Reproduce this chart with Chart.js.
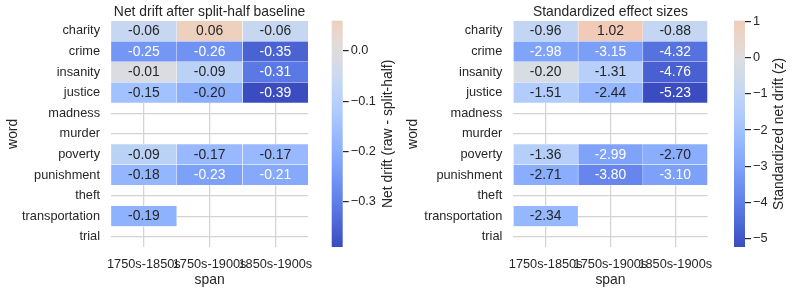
<!DOCTYPE html>
<html>
<head>
<meta charset="utf-8">
<script src="https://cdn.jsdelivr.net/npm/chart.js@4"></script>
<style>
  body { margin: 0; background: #fff; }
  #wrap { position: relative; width: 793px; height: 293px; overflow: hidden; }
  .box { position: absolute; top: 0; height: 293px; }
</style>
</head>
<body>
<div id="wrap">
  <div class="box" style="left:0;width:325px"><canvas id="hmDrift"></canvas></div>
  <div class="box" style="left:325px;width:75px"><canvas id="cbDrift"></canvas></div>
  <div class="box" style="left:400px;width:325px"><canvas id="hmEffect"></canvas></div>
  <div class="box" style="left:725px;width:68px"><canvas id="cbEffect"></canvas></div>
</div>
<script>
// rows and columns
const words = ['charity', 'crime', 'insanity', 'justice', 'madness', 'murder', 'poverty', 'punishment', 'theft', 'transportation', 'trial'];
const spans = ['1750s-1850s', '1750s-1900s', '1850s-1900s'];

// net drift (raw - split-half), one array per span
const drift1750to1850 = [-0.06, -0.25, -0.01, -0.15, null, null, -0.09, -0.18, null, -0.19, null];
const drift1750to1900 = [0.06, -0.26, -0.09, -0.20, null, null, -0.17, -0.23, null, null, null];
const drift1850to1900 = [-0.06, -0.35, -0.31, -0.39, null, null, -0.17, -0.21, null, null, null];

// standardized effect sizes (z), one array per span
const effect1750to1850 = [-0.96, -2.98, -0.20, -1.51, null, null, -1.36, -2.71, null, -2.34, null];
const effect1750to1900 = [1.02, -3.15, -1.31, -2.44, null, null, -2.99, -3.80, null, null, null];
const effect1850to1900 = [-0.88, -4.32, -4.76, -5.23, null, null, -2.70, -3.10, null, null, null];

// colorbar ticks
const driftTicks = [0.0, -0.1, -0.2, -0.3];
const effectTicks = [1, 0, -1, -2, -3, -4, -5];

const FONT = "'Liberation Sans', Arial, sans-serif";
const INK = '#262626';
const GRID = '#d4d4d4';
Chart.defaults.font.family = FONT;
Chart.defaults.color = INK;

// coolwarm colormap table (33 stops)
const coolwarm = [
  [59,76,192],[68,90,204],[77,104,215],[87,117,225],[98,130,234],[108,142,241],[119,154,247],[130,165,251],
  [141,176,254],[152,185,255],[163,194,255],[174,201,253],[184,208,249],[194,213,244],[204,217,238],[213,219,230],
  [221,221,221],[229,216,209],[236,211,197],[241,204,185],[245,196,173],[247,187,160],[247,177,148],[247,166,135],
  [244,154,123],[241,141,111],[236,127,99],[229,112,88],[222,96,77],[213,80,66],[203,62,56],[192,40,47],[180,4,38]
];

function cmapRgb(t) {
  t = Math.max(0, Math.min(1, t));
  const p = t * (coolwarm.length - 1);
  const i = Math.min(Math.floor(p), coolwarm.length - 2);
  const f = p - i;
  return coolwarm[i].map((c, k) => Math.round(c + (coolwarm[i + 1][k] - c) * f));
}

// centered at 0 like seaborn's center=0
function colorFor(v, vr) {
  const [r, g, b] = cmapRgb((v + vr) / (2 * vr));
  return `rgb(${r},${g},${b})`;
}

function textColorFor(v, vr) {
  const lin = cmapRgb((v + vr) / (2 * vr)).map(c => {
    c = c / 255;
    return c <= 0.03928 ? c / 12.92 : Math.pow((c + 0.055) / 1.055, 2.4);
  });
  const lum = 0.2126 * lin[0] + 0.7152 * lin[1] + 0.0722 * lin[2];
  return lum > 0.408 ? INK : '#ffffff';
}

function dataRange(columns) {
  const all = columns.flat().filter(v => v !== null);
  return [Math.min(...all), Math.max(...all)];
}

const cellLabels = {
  id: 'cellLabels',
  afterDatasetsDraw(chart) {
    const ctx = chart.ctx;
    const vr = chart.options.plugins.cellLabels.vr;
    ctx.save();
    ctx.font = `13.9px ${FONT}`;
    ctx.textAlign = 'center';
    ctx.textBaseline = 'middle';
    chart.data.datasets.forEach((ds, i) => {
      chart.getDatasetMeta(i).data.forEach((bar, j) => {
        const v = ds.values[j];
        if (v === null) return;
        const { x, y, base } = bar.getProps(['x', 'y', 'base'], true);
        ctx.fillStyle = textColorFor(v, vr);
        ctx.fillText(v.toFixed(2), (x + base) / 2, y + 0.5);
      });
    });
    ctx.restore();
  }
};

function makeHeatmap(id, columns, title, yWidth, padRight) {
  const [vmin, vmax] = dataRange(columns);
  const vr = Math.max(vmax, -vmin);
  return new Chart(document.getElementById(id), {
    type: 'bar',
    data: {
      labels: words,
      datasets: columns.map((vals, c) => ({
        label: spans[c],
        values: vals,
        data: vals.map(v => v === null ? null : [c, c + 1]),
        backgroundColor: vals.map(v => v === null ? 'rgba(0,0,0,0)' : colorFor(v, vr)),
        borderColor: '#ffffff',
        borderWidth: 0.5,
        borderSkipped: false,
        barPercentage: 1,
        categoryPercentage: 1,
        grouped: false
      }))
    },
    options: {
      indexAxis: 'y',
      animation: false,
      responsive: true,
      maintainAspectRatio: false,
      layout: { padding: { left: 0, right: padRight, top: 0, bottom: 0 } },
      plugins: {
        legend: { display: false },
        tooltip: { enabled: false },
        title: {
          display: true, text: title, fullSize: false, color: INK,
          font: { size: 13.9, weight: 'normal' },
          padding: { top: 4, bottom: 0 }
        },
        cellLabels: { vr }
      },
      scales: {
        x: {
          type: 'linear', min: 0, max: 3,
          afterBuildTicks: s => { s.ticks = [0.5, 1.5, 2.5].map(v => ({ value: v })); },
          afterFit: s => { s.height = 46; },
          ticks: {
            autoSkip: false, maxRotation: 0, minRotation: 0, padding: 10,
            font: { size: 12.75 }, color: INK,
            callback: v => spans[Math.floor(v)]
          },
          grid: { color: GRID, lineWidth: 1.25, drawTicks: false },
          border: { display: false },
          title: { display: true, text: 'span', color: INK, font: { size: 13.9 }, padding: { top: 0, bottom: 4.8 } }
        },
        y: {
          afterFit: s => { s.width = yWidth; },
          ticks: { padding: 11, font: { size: 12.75 }, color: INK },
          grid: { offset: false, color: GRID, lineWidth: 1.25, drawTicks: false },
          border: { display: false },
          title: { display: true, text: 'word', color: INK, font: { size: 13.9 }, padding: { top: 4.8, bottom: 0 } }
        }
      }
    },
    plugins: [cellLabels]
  });
}

const gradientFill = {
  id: 'gradientFill',
  beforeDatasetsDraw(chart) {
    const o = chart.options.plugins.gradientFill;
    const { ctx, chartArea } = chart;
    const ys = chart.scales.y;
    const g = ctx.createLinearGradient(0, ys.getPixelForValue(o.vmin), 0, ys.getPixelForValue(o.vmax));
    const n = 40;
    for (let k = 0; k <= n; k++) {
      const v = o.vmin + (o.vmax - o.vmin) * k / n;
      g.addColorStop(k / n, colorFor(v, o.vr));
    }
    ctx.save();
    ctx.fillStyle = g;
    ctx.fillRect(chartArea.left, chartArea.top, chartArea.right - chartArea.left, chartArea.bottom - chartArea.top);
    ctx.restore();
  },
  afterDraw(chart) {
    const o = chart.options.plugins.gradientFill;
    const { ctx, chartArea } = chart;
    ctx.save();
    ctx.font = `13.9px ${FONT}`;
    ctx.fillStyle = INK;
    ctx.textAlign = 'center';
    ctx.textBaseline = 'middle';
    ctx.translate(o.labelX, (chartArea.top + chartArea.bottom) / 2);
    ctx.rotate(-Math.PI / 2);
    ctx.fillText(o.label, 0, 0);
    ctx.restore();
  }
};

function makeColorbar(id, columns, ticks, digits, label, padLeft, axisWidth, labelX) {
  const [vmin, vmax] = dataRange(columns);
  const vr = Math.max(vmax, -vmin);
  return new Chart(document.getElementById(id), {
    type: 'scatter',
    data: { datasets: [] },
    options: {
      animation: false,
      responsive: true,
      maintainAspectRatio: false,
      layout: { padding: { left: padLeft, right: 0, top: 20.68, bottom: 46 } },
      plugins: {
        legend: { display: false },
        tooltip: { enabled: false },
        gradientFill: { vmin, vmax, vr, label, labelX }
      },
      scales: {
        x: { display: false },
        y: {
          position: 'right', min: vmin, max: vmax,
          afterBuildTicks: s => { s.ticks = ticks.map(v => ({ value: v })); },
          afterFit: s => { s.width = axisWidth; },
          ticks: {
            padding: 2, font: { size: 12.75 }, color: INK,
            callback: v => v.toFixed(digits).replace('-', '\u2212')
          },
          grid: { drawOnChartArea: false, drawTicks: true, tickLength: 6, color: INK, lineWidth: 1.2 },
          border: { display: false }
        }
      }
    },
    plugins: [gradientFill]
  });
}

const driftCols = [drift1750to1850, drift1750to1900, drift1850to1900];
const effectCols = [effect1750to1850, effect1750to1900, effect1850to1900];

makeHeatmap('hmDrift', driftCols, 'Net drift after split-half baseline', 111, 6);
makeColorbar('cbDrift', driftCols, driftTicks, 1, 'Net drift (raw - split-half)', 6.7, 57.3, 63);
makeHeatmap('hmEffect', effectCols, 'Standardized effect sizes', 113.3, 4.3);
makeColorbar('cbEffect', effectCols, effectTicks, 0, 'Standardized net drift (z)', 9, 48, 54);
</script>
</body>
</html>
